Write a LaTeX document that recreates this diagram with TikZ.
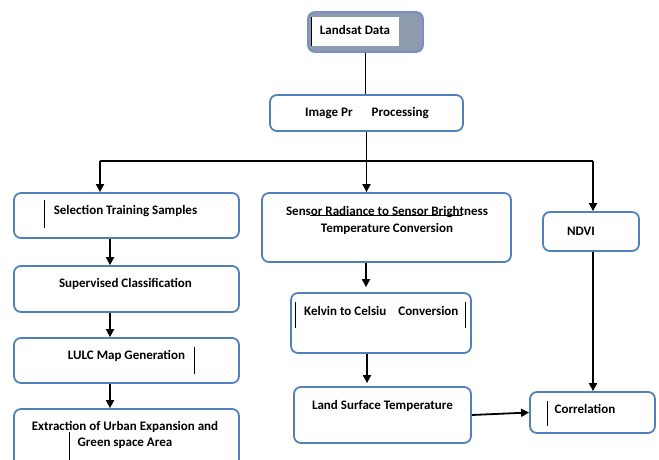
\documentclass[tikz,border=0pt]{standalone}
\usepackage{fontspec}
\setmainfont{Carlito}
\usetikzlibrary{arrows.meta,calc}
\definecolor{boxblue}{HTML}{4F81BD}
\definecolor{slate}{HTML}{8E9AAD}
\definecolor{slateedge}{HTML}{7891C2}
\begin{document}
\begin{tikzpicture}[x=1pt,y=-1pt,
  box/.style={draw=boxblue, line width=1.8pt, rounded corners=7pt, fill=white, inner sep=0pt},
  lbl/.style={font=\fontsize{13}{16.5}\selectfont\bfseries, inner sep=0pt, align=center},
  conn/.style={line width=1.2pt},
  arr/.style={line width=1.8pt, -{Triangle[length=8pt,width=8pt]}},
  stroke/.style={line width=0.9pt}]
\useasboundingbox (0,0) rectangle (659,460);
\clip (0,0) rectangle (659,460);

% boxes
\node[draw=slateedge, fill=slate, line width=1.8pt, rounded corners=7pt, minimum width=115pt, minimum height=40pt] (landsat) at (365.5,32) {};
\node[fill=white, minimum width=87pt, minimum height=29pt, inner sep=0pt] (lsin) at (355.5,31.5) {};
\node[box, minimum width=193pt, minimum height=36pt] (impre) at (366.5,113) {};
\node[box, minimum width=225pt, minimum height=45pt] (sel) at (126.5,215.5) {};
\node[box, minimum width=225pt, minimum height=46pt] (sup) at (126.5,289) {};
\node[box, minimum width=225pt, minimum height=45pt] (lulc) at (126.5,360.5) {};
\node[box, minimum width=225pt, minimum height=66pt] (extr) at (126.5,442) {};
\node[box, minimum width=249pt, minimum height=69pt] (sensor) at (386.5,227.5) {};
\node[box, minimum width=180pt, minimum height=60pt] (kelvin) at (381,323) {};
\node[box, minimum width=177pt, minimum height=56pt] (lst) at (382.5,415) {};
\node[box, minimum width=96pt, minimum height=39pt] (ndvi) at (591,231.5) {};
\node[box, minimum width=125pt, minimum height=41pt] (corr) at (592.5,412.5) {};

% texts
\node[lbl] (t-landsat) at (355,30) {Landsat Data};
\node[lbl, anchor=west] (t-impre) at (305,113) {Image Pr\hspace{19pt}Processing};
\node[lbl] (t-sel) at (125.5,211) {Selection Training Samples};
\node[lbl] (t-sup) at (125.5,284) {Supervised Classification};
\node[lbl] (t-lulc) at (126.5,356) {LULC Map Generation};
\node[lbl] (t-extr) at (125,435) {Extraction of Urban Expansion and\\Green space Area};
\node[lbl] (t-sensor) at (387,220.5) {Sensor Radiance to Sensor Brightness\\Temperature Conversion};
\node[lbl, anchor=west] (t-kelvin) at (304,311) {Kelvin to Celsiu\hspace{12pt}Conversion};
\node[lbl] (t-lst) at (382.5,406) {Land Surface Temperature};
\node[lbl] (t-ndvi) at (581,231) {NDVI};
\node[lbl] (t-corr) at (585,409) {Correlation};

% small stray strokes inside the boxes
\draw[stroke] (lsin.north west) -- (lsin.south west);
\draw[stroke] (44,200) -- (44,228);
\draw[stroke] (194,347) -- (194,374);
\draw[stroke] (69,432) -- (69,460);
\draw[stroke] (295,302) -- (295,328);
\draw[stroke] (465,302) -- (465,328);
\draw[stroke] (547,401) -- (547,426);
\draw[line width=0.8pt] (310,215.5) -- (462,215.5);

% connectors
\coordinate (split) at (366.5,161);
\draw[conn] (landsat.south) -- (landsat.south |- impre.north);
\draw[arr] (impre.south) -- (impre.south |- sensor.north);
\draw[conn] ([xshift=-26.5pt]sel.north |- split) -- ([xshift=2pt]ndvi.north |- split);
\draw[arr] ([xshift=-26.5pt]sel.north |- split) -- ([xshift=-26.5pt]sel.north);
\draw[arr] ([xshift=2pt]ndvi.north |- split) -- ([xshift=2pt]ndvi.north);
\draw[arr] ([xshift=-16.5pt]sel.south) -- ([xshift=-16.5pt]sup.north);
\draw[arr] ([xshift=-16.5pt]sup.south) -- ([xshift=-16.5pt]lulc.north);
\draw[arr] ([xshift=-16.5pt]lulc.south) -- ([xshift=-16.5pt]extr.north);
\draw[arr] ([xshift=-20.5pt]sensor.south) -- ([xshift=-20.5pt,yshift=5pt]sensor.south |- kelvin.north);
\draw[arr] ([xshift=-14pt]kelvin.south) -- ([xshift=-14pt,yshift=3pt]kelvin.south |- lst.north);
\draw[arr] (lst.east) -- (corr.west);
\draw[arr] ([xshift=2pt]ndvi.south) -- ([xshift=0.5pt]corr.north);
\end{tikzpicture}
\end{document}
